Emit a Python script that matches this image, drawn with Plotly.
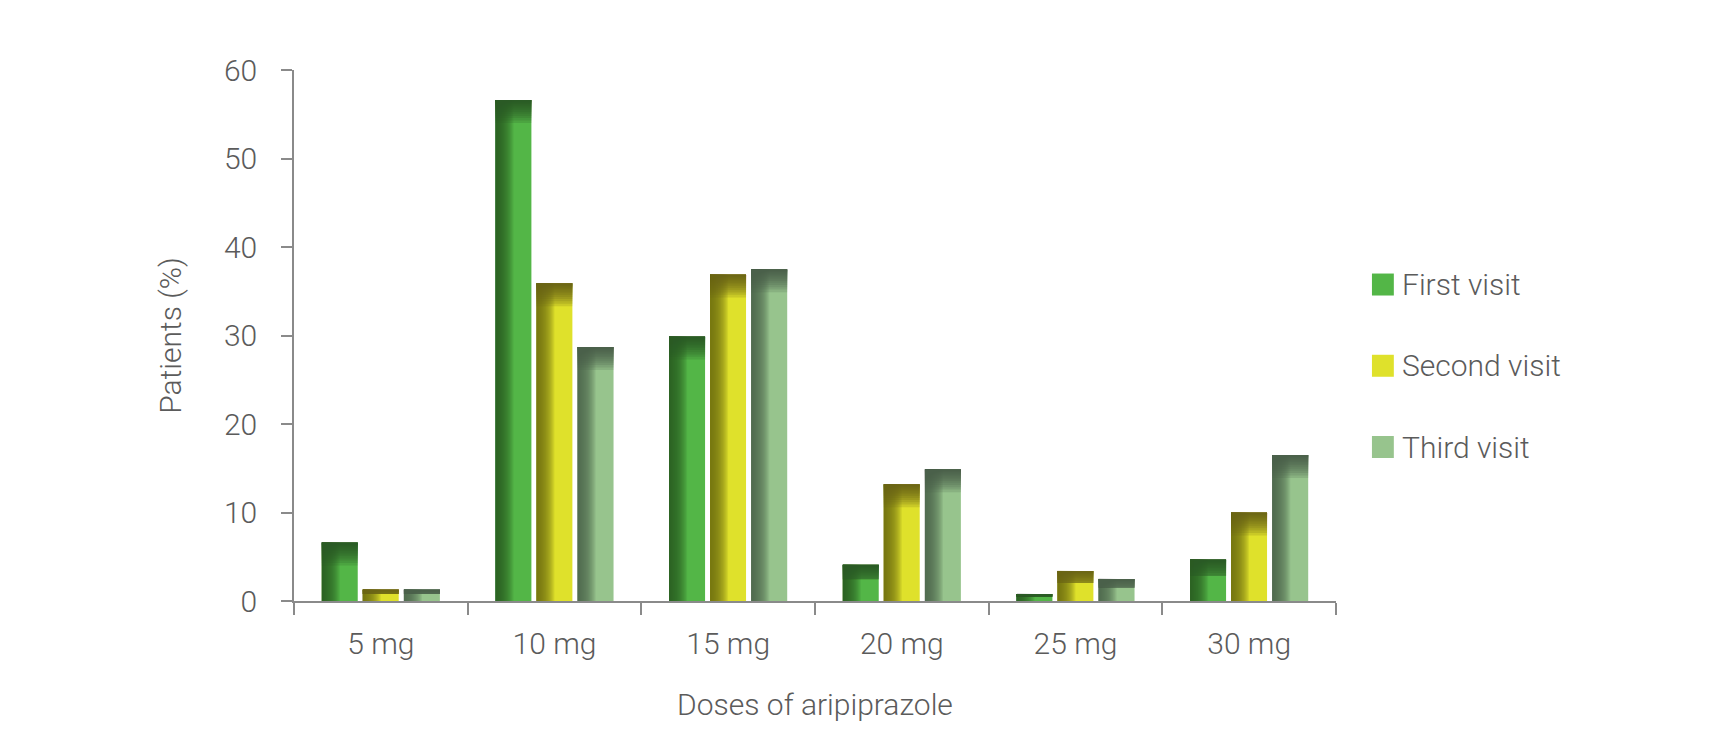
import plotly.graph_objects as go

doses = ["5 mg", "10 mg", "15 mg", "20 mg", "25 mg", "30 mg"]
first_visit = [6.6, 56.6, 29.9, 4.1, 0.8, 4.7]
second_visit = [1.3, 35.9, 36.9, 13.2, 3.4, 10.0]
third_visit = [1.3, 28.7, 37.5, 14.9, 2.5, 16.5]
series_names = ["First visit", "Second visit", "Third visit"]
y_ticks = [0, 10, 20, 30, 40, 50, 60]

light_colors = ["#53b647", "#dfe12b", "#97c48d"]
dark_rgb = [(40, 90, 35), (105, 103, 20), (75, 96, 72)]

FONT = "Roboto"
TXT = "#5b5b5b"
AX = "#8a8a8a"
FS = 30

bar_w = 0.207
offsets = [-0.34, -0.104, 0.133]
K = 16

fig = go.Figure()
for i, vals in enumerate([first_visit, second_visit, third_visit]):
    fig.add_trace(go.Bar(
        x=doses, y=vals, name=series_names[i], offset=offsets[i], width=bar_w,
        marker=dict(color=light_colors[i], line=dict(width=0)), showlegend=False,
        hoverinfo="skip"))
    r, g, b = dark_rgb[i]
    # left-edge shading
    for k in range(K):
        fig.add_trace(go.Bar(
            x=doses, y=vals, offset=offsets[i], width=bar_w * 0.5 * (k + 1) / K,
            marker=dict(color=f"rgba({r},{g},{b},0.12)", line=dict(width=0)),
            showlegend=False, hoverinfo="skip"))
    # top shading
    for k in range(K):
        depth = 0.2 + 2.4 * ((k + 1) / K) ** 2
        band = [min(depth, v * 0.4) for v in vals]
        base = [v - h for v, h in zip(vals, band)]
        fig.add_trace(go.Bar(
            x=doses, y=band, base=base, offset=offsets[i], width=bar_w,
            marker=dict(color=f"rgba({r},{g},{b},0.19)", line=dict(width=0)),
            showlegend=False, hoverinfo="skip"))

# custom legend
leg_y = [0.596, 0.443, 0.290]
for i, name in enumerate(series_names):
    fig.add_shape(type="rect", xref="paper", yref="paper",
                  x0=1.0345, x1=1.0555, y0=leg_y[i] - 0.0207, y1=leg_y[i] + 0.0207,
                  fillcolor=light_colors[i], line=dict(width=0))
    fig.add_annotation(text=name, xref="paper", yref="paper", x=1.061, y=leg_y[i],
                       xanchor="left", yanchor="middle", showarrow=False,
                       font=dict(family=FONT, size=FS, color=TXT, weight=300))

fig.update_layout(
    width=1736, height=754,
    barmode="overlay",
    plot_bgcolor="white", paper_bgcolor="white",
    margin=dict(l=286, r=408, t=62, b=161, autoexpand=False),
    font=dict(family=FONT, size=FS, color=TXT, weight=300),
    showlegend=False,
    xaxis=dict(
        type="category", showline=True, linecolor=AX, linewidth=1.5,
        ticks="outside", tickson="boundaries", ticklen=12, tickcolor=AX, tickwidth=1.5,
        showgrid=False, zeroline=False, automargin=False,
        tickfont=dict(family=FONT, size=FS, color=TXT, weight=300),
        ticklabelstandoff=15,
        title=dict(text="Doses of aripiprazole", standoff=34,
                   font=dict(family=FONT, size=FS, color=TXT, weight=300)),
    ),
    yaxis=dict(
        range=[0, 60], tickvals=y_ticks, showline=True, linecolor=AX, linewidth=1.5,
        ticks="outside", ticklen=11, tickcolor=AX, tickwidth=1.5,
        showgrid=False, zeroline=False, automargin=False,
        tickfont=dict(family=FONT, size=FS, color=TXT, weight=300),
        ticklabelstandoff=18,
        title=dict(text="Patients (%)", standoff=33,
                   font=dict(family=FONT, size=FS, color=TXT, weight=300)),
    ),
)

fig.write_html("out.html")
